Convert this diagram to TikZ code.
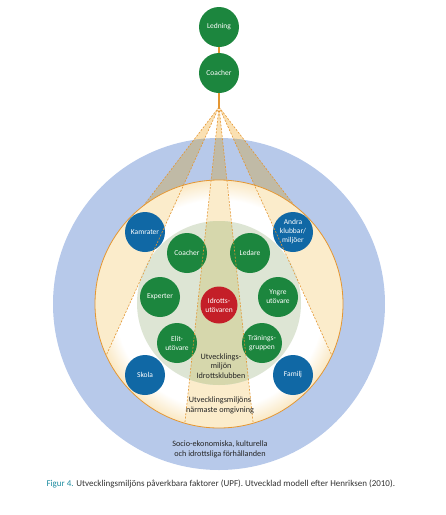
\documentclass[tikz,border=0pt]{standalone}
\usepackage{fontspec}
\setmainfont{Carlito}
\usetikzlibrary{calc}

\definecolor{ledgreen}{RGB}{28,134,62}
\definecolor{clubblue}{RGB}{16,104,165}
\definecolor{athred}{RGB}{196,30,40}
\definecolor{ringblue}{RGB}{183,201,234}
\definecolor{rimcream}{RGB}{250,232,195}
\definecolor{innergreen}{RGB}{221,229,212}
\definecolor{beamtop}{RGB}{250,224,178}
\definecolor{beamblue}{RGB}{192,186,166}
\definecolor{beamcream}{RGB}{251,236,203}
\definecolor{beamgreen}{RGB}{214,215,172}
\definecolor{lineorange}{RGB}{228,150,50}
\definecolor{captionteal}{RGB}{30,140,160}

\pgfdeclareradialshading{creamrim}{\pgfpoint{0bp}{0bp}}{color(0bp)=(white); color(21bp)=(white); color(25bp)=(rimcream); color(50bp)=(rimcream)}

% the three beams from the coach, as one path
\newcommand{\beamshapes}{(apex) -- (la) arc[start angle=127.4, end angle=204.5, radius=124] -- cycle
    (apex) -- (ra) arc[start angle=52.6, end angle=-24.5, radius=124] -- cycle
    (apex) -- (cl) arc[start angle=254, end angle=286, radius=124] -- cycle}

\begin{document}
\begin{tikzpicture}[x=1pt, y=1pt,
    actor/.style={circle, minimum size=40pt, inner sep=0pt, align=center, text=white, font=\fontsize{7.5}{9}\selectfont},
    clubnode/.style={actor, fill=ledgreen},
    envnode/.style={actor, fill=clubblue},
    beamedge/.style={lineorange, line width=0.6pt, dash pattern=on 2pt off 1.5pt},
    ringtext/.style={align=center, font=\fontsize{8.2}{9.8}\selectfont, text=black!85}]
    \useasboundingbox (0,0) rectangle (446,-515);

    % Centre of the rings and focal point of the beams
    \coordinate (ctr) at (219,-304);
    \coordinate (apex) at (219,-107);

    % Ends of the beam edges on the cream circle (r = 124)
    \coordinate (la) at ($(ctr)+(127.4:124)$);
    \coordinate (lb) at ($(ctr)+(204.5:124)$);
    \coordinate (ra) at ($(ctr)+(52.6:124)$);
    \coordinate (rb) at ($(ctr)+(-24.5:124)$);
    \coordinate (cl) at ($(ctr)+(254:124)$);
    \coordinate (cr) at ($(ctr)+(286:124)$);

    % Beams above the rings
    \fill[beamtop] \beamshapes;

    % Outer ring: socio-economic conditions
    \fill[ringblue] (ctr) circle (166);
    \begin{scope}
        \clip (ctr) circle (166);
        \fill[beamblue] \beamshapes;
    \end{scope}

    % Nearest surroundings
    \shade[shading=creamrim] (ctr) circle (124);
    \begin{scope}
        \clip (ctr) circle (124);
        \fill[beamcream] \beamshapes;
    \end{scope}
    \draw[lineorange, line width=0.8pt] (ctr) circle (124);

    % Club environment
    \fill[innergreen] (219,-303) circle (82);
    \begin{scope}
        \clip (219,-303) circle (82);
        \fill[beamgreen] (apex) -- (cl) -- (cr) -- cycle;
    \end{scope}

    % Top of the chain
    \node[clubnode] (lead) at (219,-27) {Ledning};
    \node[clubnode] (coach) at (219,-73) {Coacher};
    \draw[lineorange, line width=1.2pt] (lead) -- (coach);
    \draw[lineorange, line width=1.2pt] (coach) -- (apex);

    % The club
    \node[clubnode] (coaches) at (187,-253) {Coacher};
    \node[clubnode] (leaders) at (250,-253) {Ledare};
    \node[clubnode] (experts) at (160,-297) {Experter};
    \node[clubnode] (younger) at (278,-297) {Yngre\\utövare};
    \node[clubnode] (elite) at (177,-343) {Elit-\\utövare};
    \node[clubnode] (group) at (262,-343) {Tränings-\\gruppen};
    \node[actor, fill=athred, minimum size=37pt] (athlete) at (219,-305) {Idrotts-\\utövaren};

    % Surroundings
    \node[envnode] (friends) at (145,-232) {Kamrater};
    \node[envnode] (clubs) at (293,-232) {Andra\\klubbar/\\miljöer};
    \node[envnode] (school) at (145,-375) {Skola};
    \node[envnode] (family) at (293,-375) {Familj};

    % Dashed beam edges
    \draw[beamedge] (apex) -- (la);
    \draw[beamedge] (apex) -- (lb);
    \draw[beamedge] (apex) -- (ra);
    \draw[beamedge] (apex) -- (rb);
    \draw[beamedge] (apex) -- (cl);
    \draw[beamedge] (apex) -- (cr);

    % Ring labels
    \node[ringtext] (clubenv) at (221,-366) {Utvecklings-\\miljön\\Idrottsklubben};
    \node[ringtext] (nearenv) at (220,-405) {Utvecklingsmiljöns\\närmaste omgivning};
    \node[ringtext] (macro) at (220,-449) {Socio-ekonomiska, kulturella\\och idrottsliga förhållanden};

    % Caption
    \node[anchor=west, font=\fontsize{9}{11}\selectfont, text=black!80] (caption) at (43,-484)
        {\textcolor{captionteal}{Figur 4.} Utvecklingsmiljöns påverkbara faktorer (UPF). Utvecklad modell efter Henriksen (2010).};
\end{tikzpicture}
\end{document}
